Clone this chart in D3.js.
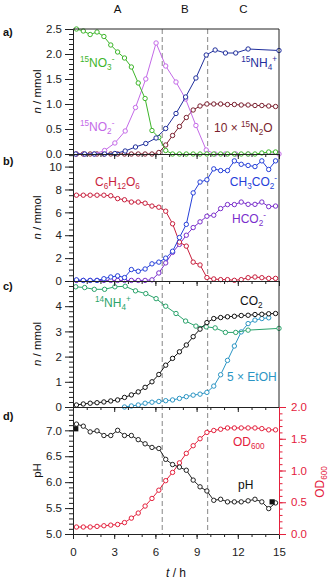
<!DOCTYPE html>
<html>
<head>
<meta charset="utf-8">
<script src="https://cdn.jsdelivr.net/npm/d3@7"></script>
<style>
  body { margin: 0; background: #fff; }
  svg { display: block; font-family: "Liberation Sans", Arial, sans-serif; }
</style>
</head>
<body>
<svg id="chart" width="331" height="580"></svg>
<script>

// tiempos de muestreo (h)
var tHalf = [0.25,0.75,1.25,1.75,2.25,2.75,3.25,3.75,4.25,4.75,5.25,5.75,6.25,6.75,7.25,7.75,
             8.25,8.75,9.25,9.75,10.25,10.75,11.25,11.75,12.25,12.75,13.25,13.75,14.25,14.75];
var tN15 = [0.2,0.85,1.55,2.3,3.05,3.8,4.55,5.3,6.05,6.75,7.5,8.2,8.95,9.7,10.35,11.1,11.85,12.75,15.0];
var tEtOH = [3.75,4.25,4.75,5.25,5.75,6.25,6.75,7.25,7.75,8.25,8.75,9.25,9.75,10.25,10.75,11.25,
             11.75,12.25,12.75,13.25,13.75,14.25];
var tRef = [0.2, 14.5];

// a) especies 15N (mmol)
var no3 = [2.5,2.46,2.39,2.44,2.35,2.18,2.04,1.92,1.74,1.42,1.11,0.47,0.33,0.07,0,0,0,0,0,0,0,0,0,0,0,0,0,0.02,0.04,0.04];
var no2 = [0,0,0,0.07,0.22,0.46,0.93,1.5,2.22,1.76,1.44,1.1,0.57,0.08,0,0,0,0,0];
var nh4N15 = [0,0,0,0,0.01,0.06,0.14,0.21,0.32,0.51,0.81,1.14,1.52,1.98,2.08,2.02,2.02,2.1,2.07];
var n2o = [0,0,0,0,0,0,0,0,0,0,0,0,0.03,0.18,0.37,0.55,0.73,0.88,0.96,1.0,1.0,1.0,0.99,0.99,0.98,0.98,0.97,0.97,0.96,0.95];

// b) carbono
var glucosa = [7.5,7.5,7.5,7.5,7.5,7.45,7.2,7.1,6.9,6.9,6.8,6.55,6.45,6.1,5.0,3.4,3.05,1.65,1.4,0.3,
               0.18,0.12,0.12,0.06,0.12,0.29,0.35,0.29,0.23,0.23];
var acetato = [0.1,0.05,0.05,0.05,0.2,0.35,0.45,0.3,1.0,0.85,1.05,1.5,1.65,2.0,2.6,3.8,4.95,7.7,8.65,8.85,
               9.8,9.65,9.65,10.5,10.2,10.1,10.0,10.5,9.75,10.5];
var formiato = [0.05,0.05,0.05,0.05,0.05,0.05,0.05,0.05,0.05,0.05,0.05,0.1,0.7,1.58,2.5,3.2,4.0,4.67,5.17,5.66,
                5.75,6.33,6.68,6.68,6.9,6.7,6.7,6.9,6.5,6.55];

// c)
var nh4N14 = [4.77,4.74,4.67,4.67,4.77,4.79,4.61,4.5,4.3,4.0,3.71,3.41,3.21,3.18,3.14,2.96,2.96,3.05,3.12];
var co2 = [0.08,0.12,0.15,0.17,0.2,0.24,0.28,0.38,0.48,0.6,0.78,1.0,1.29,1.66,1.93,2.19,2.46,2.79,3.09,3.35,
           3.51,3.55,3.58,3.6,3.63,3.64,3.67,3.68,3.7,3.71];
var etoh5 = [0,0.04,0.08,0.15,0.19,0.22,0.25,0.28,0.34,0.41,0.47,0.51,0.58,0.83,1.28,1.85,2.42,2.98,3.31,3.45,3.51,3.54];

// d)
var ph = [7.12,7.08,6.97,6.99,6.9,6.9,7.0,6.9,6.9,6.82,6.74,6.67,6.65,6.44,6.34,6.29,6.23,6.04,5.91,5.83,
          5.65,5.67,5.62,5.62,5.62,5.64,5.67,5.62,5.49,5.6];
var od600 = [0.11,0.11,0.11,0.12,0.13,0.14,0.15,0.18,0.25,0.33,0.44,0.56,0.69,0.84,0.97,1.12,1.27,1.39,1.5,1.6,
             1.63,1.65,1.67,1.67,1.67,1.67,1.67,1.66,1.64,1.64];
var phRef = [7.03, 5.62];

var fases = ['A', 'B', 'C'];
var limitesFase = [0, 6.5, 9.8, 15];
var xTicks = [0, 3, 6, 9, 12, 15];

var X0 = 73, X1 = 279;
var FS = 11.5;
var RED = '#e4203c';

var svg = d3.select('#chart');
var x = d3.scaleLinear().domain([0, 15]).range([X0, X1]);

var yA = d3.scaleLinear().domain([0, 2.5]).range([154, 29]);
var yB = d3.scaleLinear().domain([0, 11.1]).range([281, 154]);
var yC = d3.scaleLinear().domain([0, 5]).range([407, 281]);
var yPH = d3.scaleLinear().domain([5, 7.45]).range([534, 407]);
var yOD = d3.scaleLinear().domain([0, 2]).range([534, 407]);

var gGuias = svg.append('g');
var gDatos = svg.append('g');
var gEjes = svg.append('g');
var gTextos = svg.append('g');

// lineas de fase
limitesFase.slice(1, 3).forEach(function(t){
  gGuias.append('line')
    .attr('x1', x(t)).attr('x2', x(t))
    .attr('y1', 29).attr('y2', 534)
    .attr('stroke', '#9a9a9a')
    .attr('stroke-width', 1.2)
    .attr('stroke-dasharray', '5,3');
});

fases.forEach(function(f, i){
  gTextos.append('text')
    .attr('x', x((limitesFase[i] + limitesFase[i + 1]) / 2))
    .attr('y', 13)
    .attr('text-anchor', 'middle')
    .attr('font-size', 11.5)
    .attr('fill', '#111')
    .text(f);
});

function serie(ts, vs, y, color){
  var pts = ts.map(function(t, i){ return [t, vs[i]]; });
  var g = gDatos.append('g');
  g.append('path').datum(pts)
    .attr('fill', 'none')
    .attr('stroke', color)
    .attr('stroke-width', 1)
    .attr('d', d3.line().x(function(d){ return x(d[0]); }).y(function(d){ return y(d[1]); }));
  g.selectAll('circle').data(pts).enter().append('circle')
    .attr('cx', function(d){ return x(d[0]); })
    .attr('cy', function(d){ return y(d[1]); })
    .attr('r', 2.2)
    .attr('fill', '#fff')
    .attr('stroke', color)
    .attr('stroke-width', 1);
}

serie(tHalf, n2o, yA, '#7a1f2e');
serie(tN15, no2, yA, '#c46ae8');
serie(tHalf, no3, yA, '#3db52a');
serie(tN15, nh4N15, yA, '#1f2e9c');

serie(tHalf, formiato, yB, '#7a2ecc');
serie(tHalf, glucosa, yB, '#c81e3c');
serie(tHalf, acetato, yB, '#2640d9');

serie(tEtOH, etoh5, yC, '#2b95c4');
serie(tN15, nh4N14, yC, '#2aa36b');
serie(tHalf, co2, yC, '#111');

serie(tHalf, od600, yOD, RED);
serie(tHalf, ph, yPH, '#222');

gDatos.selectAll('rect.ref').data(tRef).enter().append('rect')
  .attr('x', function(t){ return x(t) - 2.6; })
  .attr('y', function(t, i){ return yPH(phRef[i]) - 2.6; })
  .attr('width', 5.2).attr('height', 5.2)
  .attr('fill', '#111');

// ejes
function estiloEje(g, color){
  g.selectAll('path, line').attr('stroke', color);
  g.selectAll('text').attr('fill', color).attr('font-size', FS)
    .attr('font-family', '"Liberation Sans", Arial, sans-serif');
}

function ejeIzq(y, major, minor, fmt){
  var g1 = gEjes.append('g').attr('transform', 'translate(' + X0 + ',0)')
    .call(d3.axisLeft(y).tickValues(minor).tickSize(4).tickSizeOuter(0).tickFormat(''));
  var g2 = gEjes.append('g').attr('transform', 'translate(' + X0 + ',0)')
    .call(d3.axisLeft(y).tickValues(major).tickSize(8).tickSizeOuter(0).tickPadding(3).tickFormat(d3.format(fmt)));
  estiloEje(g1, '#222');
  estiloEje(g2, '#222');
}

function ejeAbajo(yPos, conEtiquetas){
  var g1 = gEjes.append('g').attr('transform', 'translate(0,' + yPos + ')')
    .call(d3.axisBottom(x).tickValues(d3.range(0, 16, 1)).tickSize(3).tickSizeOuter(0).tickFormat(''));
  var g2 = gEjes.append('g').attr('transform', 'translate(0,' + yPos + ')')
    .call(d3.axisBottom(x).tickValues(xTicks).tickSize(5).tickSizeOuter(0).tickPadding(9)
      .tickFormat(conEtiquetas ? d3.format('d') : ''));
  estiloEje(g1, '#222');
  estiloEje(g2, '#222');
}

ejeIzq(yA, d3.range(0, 2.51, 0.5), d3.range(0, 2.51, 0.1), '.1f');
ejeIzq(yB, [0, 2, 4, 6, 8, 10], d3.range(0, 11.01, 0.5), 'd');
ejeIzq(yC, [0, 1, 2, 3, 4], d3.range(0, 5, 0.2), 'd');
ejeIzq(yPH, d3.range(5, 7.01, 0.5), d3.range(5, 7.45, 0.1), '.1f');

ejeAbajo(154, false);
ejeAbajo(281, false);
ejeAbajo(407, false);
ejeAbajo(534, true);

// marco
gEjes.append('line').attr('x1', X0).attr('x2', X1).attr('y1', 29).attr('y2', 29).attr('stroke', '#222');
gEjes.append('line').attr('x1', X1).attr('x2', X1).attr('y1', 29).attr('y2', 407).attr('stroke', '#222');

// eje derecho OD600
var gOD1 = gEjes.append('g').attr('transform', 'translate(' + X1 + ',0)')
  .call(d3.axisRight(yOD).tickValues(d3.range(0, 2.01, 0.1)).tickSize(3.5).tickSizeOuter(0).tickFormat(''));
var gOD2 = gEjes.append('g').attr('transform', 'translate(' + X1 + ',0)')
  .call(d3.axisRight(yOD).tickValues(d3.range(0, 2.01, 0.5)).tickSize(7).tickSizeOuter(0).tickPadding(5)
    .tickFormat(d3.format('.1f')));
estiloEje(gOD1, RED);
estiloEje(gOD2, RED);

// textos con sub/superindices: partes [texto, nivel] (1 sup, -1 sub)
function textoRico(g, px, py, partes, color, anchor, size){
  size = size || 12;
  var t = g.append('text')
    .attr('x', px).attr('y', py)
    .attr('fill', color)
    .attr('font-size', size)
    .attr('text-anchor', anchor || 'start');
  var prev = 0;
  partes.forEach(function(p){
    var off = p[1] === 1 ? -0.4 * size : (p[1] === -1 ? 0.28 * size : 0);
    var ts = t.append('tspan')
      .attr('dy', off - prev)
      .attr('font-size', p[1] === 0 ? size : size * 0.68)
      .text(p[0]);
    if (p[2]) ts.attr('font-style', 'italic');
    prev = off;
  });
  return t;
}

textoRico(gTextos, 80, 67, [['15', 1], ['NO', 0], ['3', -1], ['-', 1]], '#3db52a');
textoRico(gTextos, 80, 131, [['15', 1], ['NO', 0], ['2', -1], ['-', 1]], '#c46ae8');
textoRico(gTextos, 277, 67, [['15', 1], ['NH', 0], ['4', -1], ['+', 1]], '#1f2e9c', 'end');
textoRico(gTextos, 214, 132, [['10 × ', 0], ['15', 1], ['N', 0], ['2', -1], ['O', 0]], '#7a1f2e');

textoRico(gTextos, 95, 186, [['C', 0], ['6', -1], ['H', 0], ['12', -1], ['O', 0], ['6', -1]], '#c81e3c');
textoRico(gTextos, 277, 186, [['CH', 0], ['3', -1], ['CO', 0], ['2', -1], ['-', 1]], '#2640d9', 'end');
textoRico(gTextos, 232, 223, [['HCO', 0], ['2', -1], ['-', 1]], '#7a2ecc');

textoRico(gTextos, 95, 307, [['14', 1], ['NH', 0], ['4', -1], ['+', 1]], '#2aa36b');
textoRico(gTextos, 240, 305, [['CO', 0], ['2', -1]], '#111');
textoRico(gTextos, 227, 381, [['5 × EtOH', 0]], '#2b95c4');

textoRico(gTextos, 233, 446, [['OD', 0], ['600', -1]], RED);
textoRico(gTextos, 238, 489, [['pH', 0]], '#111');

// etiquetas de panel
[['a)', 36], ['b)', 165], ['c)', 290], ['d)', 420]].forEach(function(p){
  gTextos.append('text')
    .attr('x', 3).attr('y', p[1])
    .attr('font-size', 11).attr('font-weight', 'bold')
    .attr('fill', '#111')
    .text(p[0]);
});

// titulos de eje
[yA, yB, yC].forEach(function(y){
  var yc = (y.range()[0] + y.range()[1]) / 2;
  textoRico(gTextos, 0, 0, [['n', 0, true], [' / mmol', 0]], '#111', 'middle', FS)
    .attr('transform', 'translate(41,' + yc + ') rotate(-90)');
});
textoRico(gTextos, 0, 0, [['pH', 0]], '#111', 'middle', FS)
  .attr('transform', 'translate(41,' + ((534 + 407) / 2) + ') rotate(-90)');
textoRico(gTextos, 0, 0, [['OD', 0], ['600', -1]], RED, 'middle', 12)
  .attr('transform', 'translate(324,482) rotate(-90)');
textoRico(gTextos, 0, 0, [['t', 0, true], [' / h', 0]], '#111', 'middle', 12)
  .attr('transform', 'translate(' + ((X0 + X1) / 2) + ',577)');

</script>
</body>
</html>
